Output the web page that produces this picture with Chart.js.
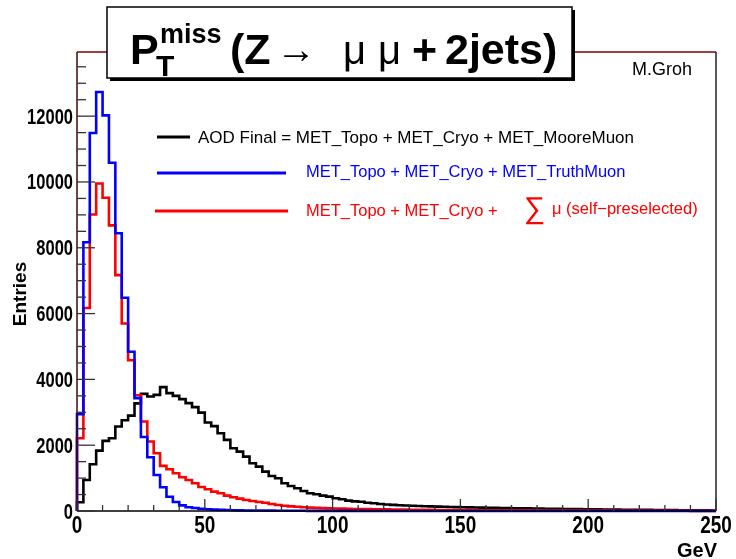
<!DOCTYPE html>
<html>
<head>
<meta charset="utf-8">
<script src="https://cdn.jsdelivr.net/npm/chart.js@4/dist/chart.umd.min.js"></script>
<style>
  html, body { margin: 0; padding: 0; background: #ffffff; }
  #wrap { position: relative; width: 736px; height: 559px; }
</style>
</head>
<body>
<div id="wrap"><canvas id="chart"></canvas></div>
<script>
  "use strict";

  // Histogram binning: 100 bins of 2.5 GeV over 0..250 GeV.
  const BIN_WIDTH = 2.5;
  const X_MIN = 0;
  const X_MAX = 250;
  const Y_MIN = 0;
  const Y_MAX = 13950;

  // Tick labels (major) and minor tick steps.
  const X_TICKS = [0, 50, 100, 150, 200, 250];
  const Y_TICKS = [0, 2000, 4000, 6000, 8000, 10000, 12000];
  const X_MINOR_STEP = 10;
  const Y_MINOR_STEP = 500;

  // Legend / series names.
  const NAME_AOD = "AOD Final = MET_Topo + MET_Cryo + MET_MooreMuon";
  const NAME_TRUTH = "MET_Topo + MET_Cryo + MET_TruthMuon";
  const NAME_SELF_A = "MET_Topo + MET_Cryo +";
  const NAME_SELF_B = "\u03bc (self\u2212preselected)";

  // Entries per bin.
  // AOD Final (black)
  const AOD_FINAL = [
    265, 944, 1422, 1836, 2131, 2213, 2566, 2760, 2900, 3270,
    3560, 3480, 3530, 3766, 3582, 3500, 3400, 3278, 3157, 2990,
    2690, 2580, 2364, 2161, 1908, 1806, 1654, 1452, 1350, 1197,
    1065, 995, 843, 761, 690, 609, 538, 508, 466, 436,
    386, 356, 314, 294, 280, 253, 234, 213, 198, 186,
    175, 165, 158, 150, 145, 140, 132, 128, 122, 118,
    112, 110, 105, 102, 98, 95, 92, 88, 85, 82,
    80, 76, 74, 70, 68, 66, 62, 60, 56, 55,
    52, 50, 47, 45, 44, 40, 39, 37, 35, 33,
    31, 30, 28, 26, 25, 23, 22, 20, 19, 17
  ];

  // TruthMuon (blue)
  const TRUTH_MUON = [
    2943, 8168, 11490, 12735, 12025, 10585, 8440, 6480, 4840, 3430,
    2250, 1634, 1096, 721, 435, 275, 170, 115, 90, 68,
    52, 42, 35, 29, 24, 20, 17, 15, 13, 11,
    10, 9, 8, 7, 7, 6, 5, 5, 4, 4,
    4, 3, 3, 3, 3, 2, 2, 2, 2, 2,
    2, 2, 1, 1, 1, 1, 1, 1, 1, 1,
    1, 1, 1, 1, 1, 1, 1, 0, 1, 0,
    1, 0, 0, 1, 0, 0, 0, 1, 0, 0,
    0, 0, 0, 0, 0, 0, 0, 0, 0, 0,
    0, 0, 0, 0, 0, 0, 0, 0, 0, 0
  ];

  // sum mu self-preselected (red)
  const SELF_PRESEL = [
    2213, 6170, 9011, 9955, 9520, 8680, 7170, 5700, 4580, 3520,
    2720, 2110, 1756, 1370, 1270, 1148, 1026, 944, 843, 730,
    660, 588, 538, 466, 416, 375, 335, 305, 274, 253,
    213, 183, 160, 140, 128, 112, 102, 94, 87, 81,
    76, 71, 67, 63, 60, 56, 53, 50, 48, 45,
    43, 41, 39, 37, 35, 34, 32, 31, 29, 28,
    27, 26, 25, 24, 23, 22, 21, 20, 19, 18,
    18, 17, 16, 15, 15, 14, 13, 13, 12, 12,
    11, 11, 10, 10, 9, 9, 9, 8, 8, 8,
    7, 7, 7, 6, 6, 6, 5, 5, 5, 5
  ];

  const COLORS = {
    aod: "#000000",
    truth: "#0000ff",
    self: "#ff0000",
    frame: "#800000",
    text: "#000000",
  };

  const FONT = '"Liberation Sans", Arial, Helvetica, sans-serif';

  /** Turn bin contents into step points: a baseline start, then each bin's right edge. */
  function histPoints(values) {
    const pts = [{ x: X_MIN, y: 0 }];
    values.forEach(function (v, i) {
      pts.push({ x: X_MIN + (i + 1) * BIN_WIDTH, y: v });
    });
    return pts;
  }

  function histDataset(label, values, color) {
    return {
      label: label,
      data: histPoints(values),
      borderColor: color,
      backgroundColor: "transparent",
      borderWidth: 2.6,
      stepped: "after",
      pointRadius: 0,
      tension: 0,
      fill: false,
      clip: false,
    };
  }

  function line(ctx, x1, y1, x2, y2) {
    ctx.beginPath();
    ctx.moveTo(x1, y1);
    ctx.lineTo(x2, y2);
    ctx.stroke();
  }

  /** Draw text stretched vertically (ROOT-like tall tick labels). */
  function tallText(ctx, text, x, y, sy) {
    ctx.save();
    ctx.translate(x, y);
    ctx.scale(1, sy);
    ctx.fillText(text, 0, 0);
    ctx.restore();
  }

  // Frame, inward ticks, labels, legend and title box (ROOT canvas style).
  const rootDecor = {
    id: "rootDecor",
    afterDatasetsDraw: function (chart) {
      const ctx = chart.ctx;
      const a = chart.chartArea;
      const xs = chart.scales.x;
      const ys = chart.scales.y;
      ctx.save();

      // frame
      ctx.lineWidth = 1.5;
      ctx.strokeStyle = COLORS.frame;
      line(ctx, a.left, a.top, a.right, a.top);
      ctx.strokeStyle = "#222222";
      line(ctx, a.right, a.top, a.right, a.bottom);
      ctx.strokeStyle = "#3a0a0a";
      line(ctx, a.left, a.top, a.left, a.bottom);
      ctx.strokeStyle = "#000000";
      line(ctx, a.left, a.bottom, a.right, a.bottom);

      // x ticks (inward)
      ctx.lineWidth = 1.3;
      ctx.strokeStyle = "#333333";
      for (let v = X_MIN; v <= X_MAX; v += X_MINOR_STEP) {
        const px = xs.getPixelForValue(v);
        const len = X_TICKS.indexOf(v) >= 0 ? 12 : 6;
        line(ctx, px, a.bottom, px, a.bottom - len);
      }
      // y ticks (inward)
      for (let v = Y_MIN; v <= Y_MAX; v += Y_MINOR_STEP) {
        const py = ys.getPixelForValue(v);
        const len = Y_TICKS.indexOf(v) >= 0 ? 18 : 9;
        line(ctx, a.left, py, a.left + len, py);
      }

      // tick labels
      ctx.fillStyle = COLORS.text;
      ctx.textBaseline = "alphabetic";
      ctx.font = "bold 19px " + FONT;
      ctx.textAlign = "center";
      X_TICKS.forEach(function (v) {
        tallText(ctx, String(v), xs.getPixelForValue(v), a.bottom + 22, 1.3);
      });
      ctx.font = "bold 16.5px " + FONT;
      ctx.textAlign = "right";
      Y_TICKS.forEach(function (v) {
        tallText(ctx, String(v), a.left - 4, ys.getPixelForValue(v) + 7.5, 1.3);
      });

      // axis titles
      ctx.font = "bold 20px " + FONT;
      ctx.textAlign = "right";
      ctx.fillText("GeV", a.right + 1, 557);
      ctx.save();
      ctx.translate(26, 294);
      ctx.rotate(-Math.PI / 2);
      ctx.font = "bold 19px " + FONT;
      ctx.textAlign = "center";
      ctx.fillText("Entries", 0, 0);
      ctx.restore();

      // legend
      ctx.lineWidth = 3;
      ctx.strokeStyle = COLORS.aod;
      line(ctx, 157, 137, 190, 137);
      ctx.strokeStyle = COLORS.truth;
      line(ctx, 157, 173, 286, 173);
      ctx.strokeStyle = COLORS.self;
      line(ctx, 155, 211, 288, 211);

      ctx.textAlign = "left";
      ctx.textBaseline = "middle";
      ctx.fillStyle = COLORS.aod;
      ctx.font = "17px " + FONT;
      ctx.fillText(NAME_AOD, 198, 138);
      ctx.fillStyle = COLORS.truth;
      ctx.font = "16.5px " + FONT;
      ctx.fillText(NAME_TRUTH, 306, 172);
      ctx.fillStyle = COLORS.self;
      ctx.fillText(NAME_SELF_A, 306, 211);
      ctx.font = "30px " + FONT;
      ctx.fillText("\u2211", 524, 210);
      ctx.font = "16.5px " + FONT;
      ctx.fillText(NAME_SELF_B, 552, 209);

      // author tag
      ctx.fillStyle = COLORS.text;
      ctx.font = "18px " + FONT;
      ctx.fillText("M.Groh", 632, 70);

      // title box with shadow
      ctx.fillStyle = "#000000";
      ctx.fillRect(110, 10, 465, 71);
      ctx.fillStyle = "#ffffff";
      ctx.fillRect(107, 7, 465, 71);
      ctx.lineWidth = 1.5;
      ctx.strokeStyle = "#000000";
      ctx.strokeRect(107, 7, 465, 71);

      ctx.fillStyle = COLORS.text;
      ctx.textBaseline = "alphabetic";
      ctx.textAlign = "left";
      ctx.font = "bold 43px " + FONT;
      ctx.fillText("P", 130, 64);
      ctx.font = "bold 27px " + FONT;
      ctx.fillText("miss", 160, 43);
      ctx.font = "bold 30px " + FONT;
      ctx.fillText("T", 156, 76);
      ctx.font = "bold 43px " + FONT;
      ctx.fillText("(Z", 230, 64);
      ctx.font = "40px " + FONT;
      ctx.fillText("\u2192", 276, 63);
      ctx.fillText("\u03bc", 343, 64);
      ctx.fillText("\u03bc", 378, 64);
      ctx.font = "bold 43px " + FONT;
      ctx.fillText("+", 412, 64);
      ctx.fillText("2jets)", 445, 64);

      ctx.restore();
    },
  };

  const chart = new Chart(document.getElementById("chart").getContext("2d"), {
    type: "line",
    data: {
      datasets: [
        histDataset(NAME_TRUTH, TRUTH_MUON, COLORS.truth),
        histDataset(NAME_SELF_A + " \u2211" + NAME_SELF_B, SELF_PRESEL, COLORS.self),
        histDataset(NAME_AOD, AOD_FINAL, COLORS.aod),
      ],
    },
    options: {
      responsive: true,
      maintainAspectRatio: false,
      animation: false,
      events: [],
      layout: { padding: { left: 77, right: 20, top: 52, bottom: 48 } },
      scales: {
        x: { type: "linear", min: X_MIN, max: X_MAX, display: false },
        y: { type: "linear", min: Y_MIN, max: Y_MAX, display: false },
      },
      plugins: {
        legend: { display: false },
        tooltip: { enabled: false },
      },
    },
    plugins: [rootDecor],
  });
</script>
</body>
</html>
